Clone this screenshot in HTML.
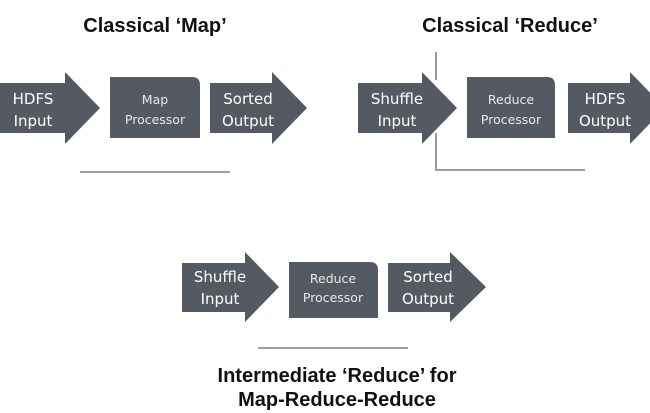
<!DOCTYPE html>
<html><head><style>
body{margin:0;background:#fff;width:650px;height:413px;overflow:hidden}
svg{display:block}
.t{font-family:"Liberation Sans",sans-serif;font-weight:bold;font-size:20px;fill:#111;text-anchor:middle}
.w{font-family:"DejaVu Sans","Liberation Sans",sans-serif;fill:#fff;text-anchor:middle;font-size:15px}
.s{font-family:"DejaVu Sans","Liberation Sans",sans-serif;fill:#e8e8e8;text-anchor:middle;font-size:12.5px}
</style></head><body>
<svg width="650" height="413" viewBox="0 0 650 413">
<g fill="#555a62">
<text class="t" x="155" y="32">Classical ‘Map’</text>
<text class="t" x="510" y="32">Classical ‘Reduce’</text>
<polygon points="0,83 65,83 65,72 100,108 65,144 65,133 0,133"/>
<path d="M110,77 H192 Q200,77 200,85 V138 H110 Z"/>
<polygon points="210,83 272,83 272,72 307,108 272,144 272,133 210,133"/>
<polygon points="358,83 422,83 422,72 457,108 422,144 422,133 358,133"/>
<path d="M467,77 H547 Q555,77 555,85 V138 H467 Z"/>
<polygon points="568,83 630,83 630,72 665,108 630,144 630,133 568,133"/>
<polygon points="182,263 245,263 245,252 279,287 245,322 245,312 182,312"/>
<path d="M289,262 H370 Q378,262 378,270 V318 H289 Z"/>
<polygon points="388,263 450,263 450,252 486,287 450,322 450,312 388,312"/>
</g>
<g stroke="#9a9ea3" stroke-width="2" fill="none">
<line x1="80" y1="172" x2="230" y2="172"/>
<polyline points="436,52 436,80"/>
<polyline points="436,133 436,170 585,170"/>
<line x1="258" y1="348" x2="408" y2="348"/>
</g>
<text class="w" x="33" y="104">HDFS</text><text class="w" x="33" y="126">Input</text>
<text class="s" x="155" y="104">Map</text><text class="s" x="155" y="124">Processor</text>
<text class="w" x="248" y="104">Sorted</text><text class="w" x="248" y="126">Output</text>
<text class="w" x="397" y="104">Shuffle</text><text class="w" x="397" y="126">Input</text>
<text class="s" x="511" y="104">Reduce</text><text class="s" x="511" y="124">Processor</text>
<text class="w" x="605" y="104">HDFS</text><text class="w" x="605" y="126">Output</text>
<text class="w" x="220" y="282">Shuffle</text><text class="w" x="220" y="304">Input</text>
<text class="s" x="333" y="283">Reduce</text><text class="s" x="333" y="302">Processor</text>
<text class="w" x="428" y="282">Sorted</text><text class="w" x="428" y="304">Output</text>
<text class="t" x="337" y="382">Intermediate ‘Reduce’ for</text>
<text class="t" x="337" y="406">Map-Reduce-Reduce</text>
</svg>
</body></html>
